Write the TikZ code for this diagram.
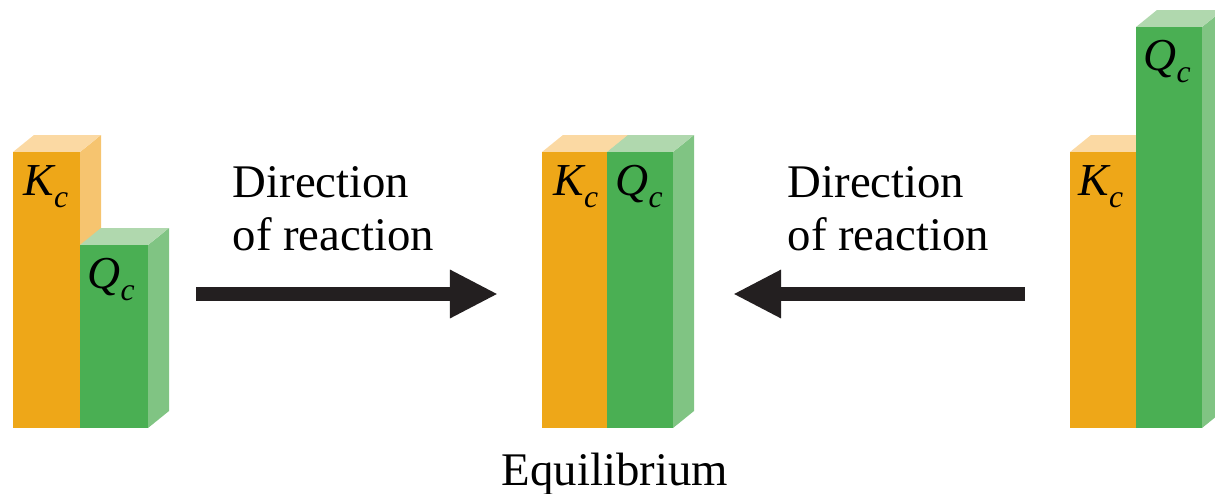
\documentclass[tikz,border=0pt]{standalone}
\usepackage{fontspec}
\setmainfont{Liberation Serif}
\usetikzlibrary{arrows.meta}
\definecolor{kfront}{HTML}{EEA718}
\definecolor{kside}{HTML}{F6C46F}
\definecolor{ktop}{HTML}{FBD9A3}
\definecolor{qfront}{HTML}{4AAF53}
\definecolor{qside}{HTML}{80C483}
\definecolor{qtop}{HTML}{B0D8AE}
\definecolor{arrowblack}{HTML}{231F20}
\tikzset{
  lbl/.style={
    font=\fontsize{13}{15}\selectfont\itshape,
    anchor=base west, inner sep=0pt
  },
  dirtext/.style={
    font=\fontsize{13.3}{14.8}\selectfont,
    align=left, anchor=base west, inner sep=0pt
  },
  dirarrow/.style={
    -{Triangle[length=0.48cm, width=0.45cm]}, line width=0.14cm, draw=arrowblack
  }
}
% x, width, top, colour prefix (k or q)
\newcommand{\prism}[4]{%
  \fill[#4side] (#1+#2,65) -- (#1+#2,#3) -- ++(21,17) -- (#1+#2+21,82) -- cycle;
  \fill[#4top] (#1,#3) -- ++(#2,0) -- ++(21,17) -- ++(-#2,0) -- cycle;
  \fill[#4front] (#1,65) rectangle (#1+#2,#3);
}
\newcommand{\conc}[1]{#1\raisebox{-3.5pt}{\fontsize{9}{10}\selectfont c}}

\begin{document}
\begin{tikzpicture}[x=0.01cm, y=0.01cm]
    \useasboundingbox (0,0) rectangle (1215,493);
    % Qc < Kc
    \prism{13}{67}{341}{k}
    \prism{80}{68}{248}{q}
    \node[lbl] (kleft) at (23,298) {\conc{K}};
    \node[lbl] (qleft) at (87,205) {\conc{Q}};
    % Qc = Kc
    \prism{542}{65}{341}{k}
    \prism{607}{66}{341}{q}
    \node[lbl] (kmid) at (553,298) {\conc{K}};
    \node[lbl] (qmid) at (615,298) {\conc{Q}};
    % Qc > Kc
    \prism{1070}{66}{341}{k}
    \prism{1136}{66}{466}{q}
    \node[lbl] (kright) at (1078,298) {\conc{K}};
    \node[lbl] (qright) at (1143,423) {\conc{Q}};

    \node[dirtext] (dirleft) at (232,243) {Direction\\of reaction};
    \node[dirtext] (dirright) at (787,243) {Direction\\of reaction};
    \node[dirtext, anchor=base] (equil) at (615,8) {Equilibrium};

    \coordinate (ltail) at (196,199);
    \coordinate (ltip) at (498,199);
    \coordinate (rtail) at (1025,199);
    \coordinate (rtip) at (733,199);
    \draw[dirarrow] (ltail) -- (ltip);
    \draw[dirarrow] (rtail) -- (rtip);
\end{tikzpicture}
\end{document}
